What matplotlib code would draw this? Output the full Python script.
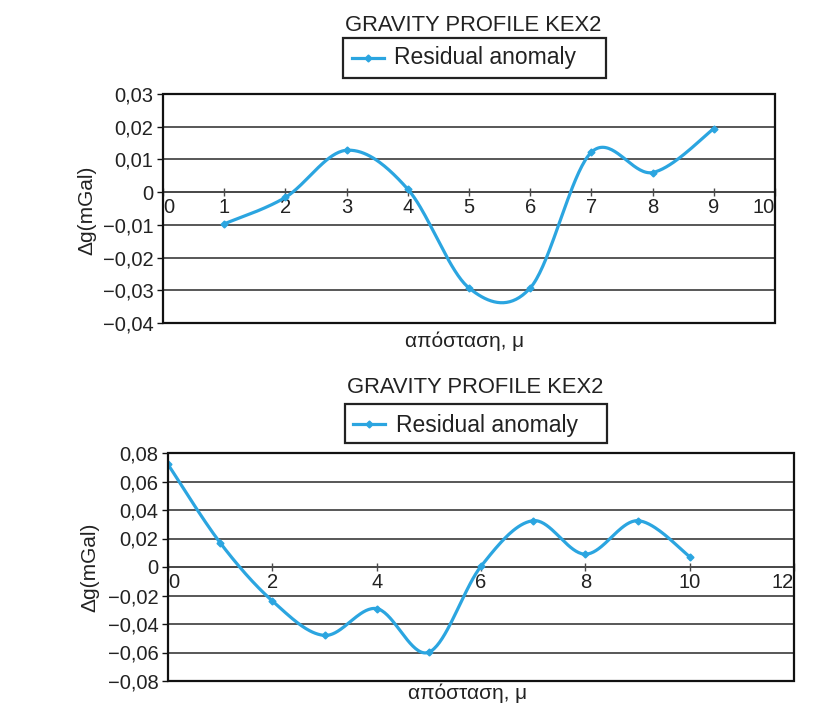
import numpy as np
import matplotlib
matplotlib.use("Agg")
import matplotlib.pyplot as plt
from matplotlib.patches import Rectangle
from matplotlib.lines import Line2D
from matplotlib.ticker import FuncFormatter

plt.rcParams['font.family'] = ['Liberation Sans', 'DejaVu Sans']

title_text = "GRAVITY PROFILE KEX2"
legend_label = "Residual anomaly"
xlabel_text = "απόσταση, μ"
ylabel_text = "Δg(mGal)"

# Top chart data
x_top = [1, 2, 3, 4, 5, 6, 7, 8, 9]
y_top = [-0.0097, -0.0016, 0.0128, 0.0009, -0.0293, -0.0293, 0.0122, 0.0060, 0.0194]
xticks_top = [0, 1, 2, 3, 4, 5, 6, 7, 8, 9, 10]
yticks_top = [-0.04, -0.03, -0.02, -0.01, 0.0, 0.01, 0.02, 0.03]

# Bottom chart data
x_bot = [0, 1, 2, 3, 4, 5, 6, 7, 8, 9, 10]
y_bot = [0.072, 0.017, -0.0238, -0.048, -0.0292, -0.0598, 0.0005, 0.0325, 0.009, 0.0325, 0.0073]
xticks_bot = [0, 2, 4, 6, 8, 10, 12]
yticks_bot = [-0.08, -0.06, -0.04, -0.02, 0.0, 0.02, 0.04, 0.06, 0.08]

LINE_COLOR = '#2ba5e0'
GRID_COLOR = '#4a4a4a'


def smooth(xs, ys, n=40):
    """Excel-style smoothed line (Catmull-Rom / Bezier)."""
    P = np.column_stack([xs, ys]).astype(float)
    P = np.vstack([P[0], P, P[-1]])
    out = []
    t = np.linspace(0, 1, n)[:, None]
    for i in range(1, len(P) - 2):
        p0, p1, p2, p3 = P[i - 1], P[i], P[i + 1], P[i + 2]
        c1 = p1 + (p2 - p0) / 6.0
        c2 = p2 - (p3 - p1) / 6.0
        seg = ((1 - t) ** 3) * p1 + 3 * ((1 - t) ** 2) * t * c1 + 3 * (1 - t) * t ** 2 * c2 + t ** 3 * p2
        out.append(seg if i == 1 else seg[1:])
    out = np.vstack(out)
    return out[:, 0], out[:, 1]


def yfmt(v, pos):
    if abs(v) < 1e-12:
        return "0"
    s = f"{abs(v):.2f}".replace('.', ',')
    return ("\u2212" + s) if v < 0 else s


def draw(ax, xs, ys, xticks, yticks):
    sx, sy = smooth(xs, ys)
    ax.plot(sx, sy, color=LINE_COLOR, lw=2.3, solid_capstyle='round', zorder=3)
    ax.plot(xs, ys, ls='none', marker='D', ms=3.5, color=LINE_COLOR, zorder=4)
    ax.set_xlim(xticks[0], xticks[-1])
    ax.set_ylim(yticks[0], yticks[-1])
    ax.set_yticks(yticks)
    ax.yaxis.set_major_formatter(FuncFormatter(yfmt))
    ax.set_xticks(xticks, [str(v) for v in xticks])
    ax.yaxis.grid(True, color=GRID_COLOR, lw=1.3)
    ax.set_axisbelow(True)
    for s in ['top', 'right', 'left']:
        ax.spines[s].set_visible(False)
    ax.spines['bottom'].set_position(('data', 0))
    ax.spines['bottom'].set_color(GRID_COLOR)
    ax.spines['bottom'].set_linewidth(1.3)
    ax.add_patch(Rectangle((0, 0), 1, 1, transform=ax.transAxes, fill=False,
                           ec='#111111', lw=1.6, clip_on=False, zorder=5))
    ax.tick_params(axis='x', direction='inout', length=6, width=1, color=GRID_COLOR,
                   labelsize=14.5, pad=1, labelcolor='#222222')
    ax.tick_params(axis='y', direction='out', length=4, width=1, color='#111111',
                   labelsize=14.5, pad=3, labelcolor='#222222')
    labels = ax.get_xticklabels()
    labels[0].set_horizontalalignment('left')
    labels[-1].set_horizontalalignment('right')


def legend_box(fig, x0, y0, w, h, hx0, hx1, hy, tx, ty):
    fig.add_artist(Rectangle((x0, y0), w, h, transform=fig.transFigure, fill=False,
                             ec='#222222', lw=1.6))
    fig.add_artist(Line2D([hx0, hx1], [hy, hy], transform=fig.transFigure,
                          color=LINE_COLOR, lw=2.3))
    fig.add_artist(Line2D([(hx0 + hx1) / 2], [hy], transform=fig.transFigure,
                          color=LINE_COLOR, marker='D', ms=3.5, ls='none'))
    fig.text(tx, ty, legend_label, fontsize=16.5, color='#222222', ha='left', va='baseline')


W, H = 815, 717
fig = plt.figure(figsize=(W / 100, H / 100), dpi=100)


def fx(px):
    return px / W


def fy(py):
    return 1 - py / H


# Top chart
ax1 = fig.add_axes([fx(163), fy(323), fx(775 - 163), (323 - 94) / H])
draw(ax1, x_top, y_top, xticks_top, yticks_top)
fig.text(fx(473), fy(31), title_text, fontsize=15.8, ha='center', va='baseline', color='#222222')
legend_box(fig, fx(343), fy(78), fx(606 - 343), 40 / H, fx(352), fx(384), fy(58), fx(394), fy(64))
fig.text(fx(465), fy(341), xlabel_text, fontsize=15, ha='center', va='center', color='#222222')
fig.text(fx(87), fy(210), ylabel_text, fontsize=15, ha='center', va='center', rotation=90, color='#222222')

# Bottom chart
ax2 = fig.add_axes([fx(168), fy(681), fx(794 - 168), (681 - 453) / H])
draw(ax2, x_bot, y_bot, xticks_bot, yticks_bot)
fig.text(fx(475), fy(393), title_text, fontsize=15.8, ha='center', va='baseline', color='#222222')
legend_box(fig, fx(345), fy(443), fx(607 - 345), 39 / H, fx(353), fx(385), fy(424), fx(396), fy(432))
fig.text(fx(468), fy(693), xlabel_text, fontsize=15, ha='center', va='center', color='#222222')
fig.text(fx(90), fy(567), ylabel_text, fontsize=15, ha='center', va='center', rotation=90, color='#222222')

fig.savefig("out.png", dpi=100, facecolor='white')
